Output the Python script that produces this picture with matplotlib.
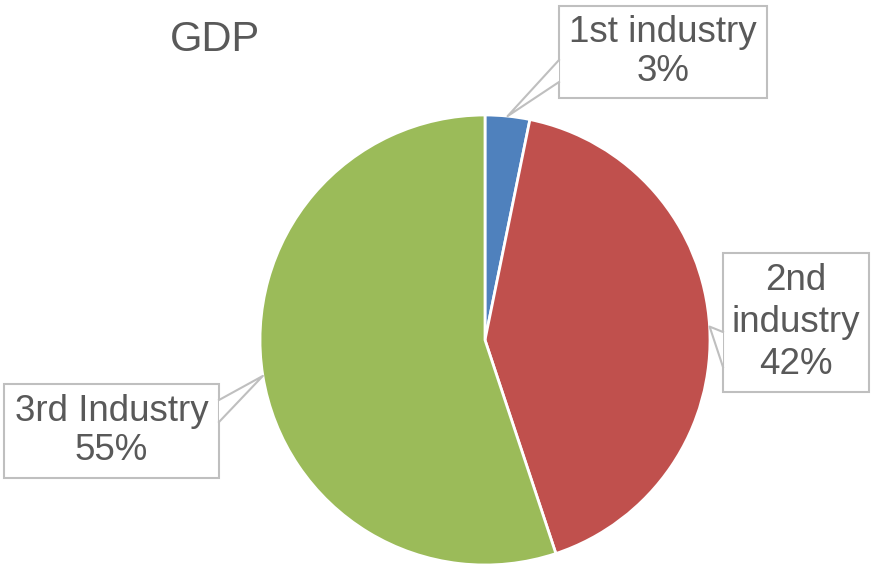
import numpy as np
import matplotlib
matplotlib.use("Agg")
import matplotlib.pyplot as plt
from matplotlib.patches import Rectangle, Polygon

# GDP share by industry (percent)
names = ["1st industry", "2nd\nindustry", "3rd Industry"]
shares = [3.2, 41.7, 55.1]
colors = ["#4F81BD", "#C0504D", "#9BBB59"]

W, H = 871, 566
fig = plt.figure(figsize=(W / 100, H / 100), dpi=100)
ax = fig.add_axes([0, 0, 1, 1])

cx, cy, r = 485, H - 340, 225
wedges, _ = ax.pie(shares, colors=colors, startangle=90, counterclock=False,
                   center=(cx, cy), radius=r,
                   wedgeprops=dict(edgecolor="white", linewidth=2))
ax.set_xlim(0, W)
ax.set_ylim(0, H)
ax.set_aspect("equal")
ax.axis("off")

grey = "#595959"
edge = "#BFBFBF"
font = "Liberation Sans"

ax.text(215, H - 40, "GDP", ha="center", va="center", fontsize=30,
        color=grey, family=font)

# callout boxes in pixel coords: (x0, y0, x1, y1), pointer base (side, a, b), line spacing
boxes = [
    ((559, 6, 767, 98), ("left", 60, 82), 1.15),
    ((723, 253, 869, 392), ("left", 332, 367), 1.27),
    ((4, 384, 219, 478), ("right", 400, 422), 1.15),
]

total = sum(shares)
for w, name, s, (box, base, ls) in zip(wedges, names, shares, boxes):
    x0, y0, x1, y1 = box
    ax.add_patch(Rectangle((x0, H - y1), x1 - x0, y1 - y0, facecolor="white",
                           edgecolor=edge, lw=1.5, zorder=3))
    mid = np.deg2rad((w.theta1 + w.theta2) / 2)
    tip = (cx + r * np.cos(mid), cy + r * np.sin(mid))
    side, a, b = base
    bx = x0 if side == "left" else x1
    p1 = (bx, H - a)
    p2 = (bx, H - b)
    ax.add_patch(Polygon([p1, tip, p2], closed=True, facecolor="white",
                         edgecolor="none", zorder=4))
    ax.plot([p1[0], tip[0], p2[0]], [p1[1], tip[1], p2[1]], color=edge,
            lw=1.5, zorder=5)
    label = f"{name}\n{round(s / total * 100)}%"
    ax.text((x0 + x1) / 2, H - (y0 + y1) / 2, label, ha="center", va="center",
            fontsize=26.5, color=grey, family=font, linespacing=ls, zorder=6)

fig.savefig("out.png", dpi=100)
